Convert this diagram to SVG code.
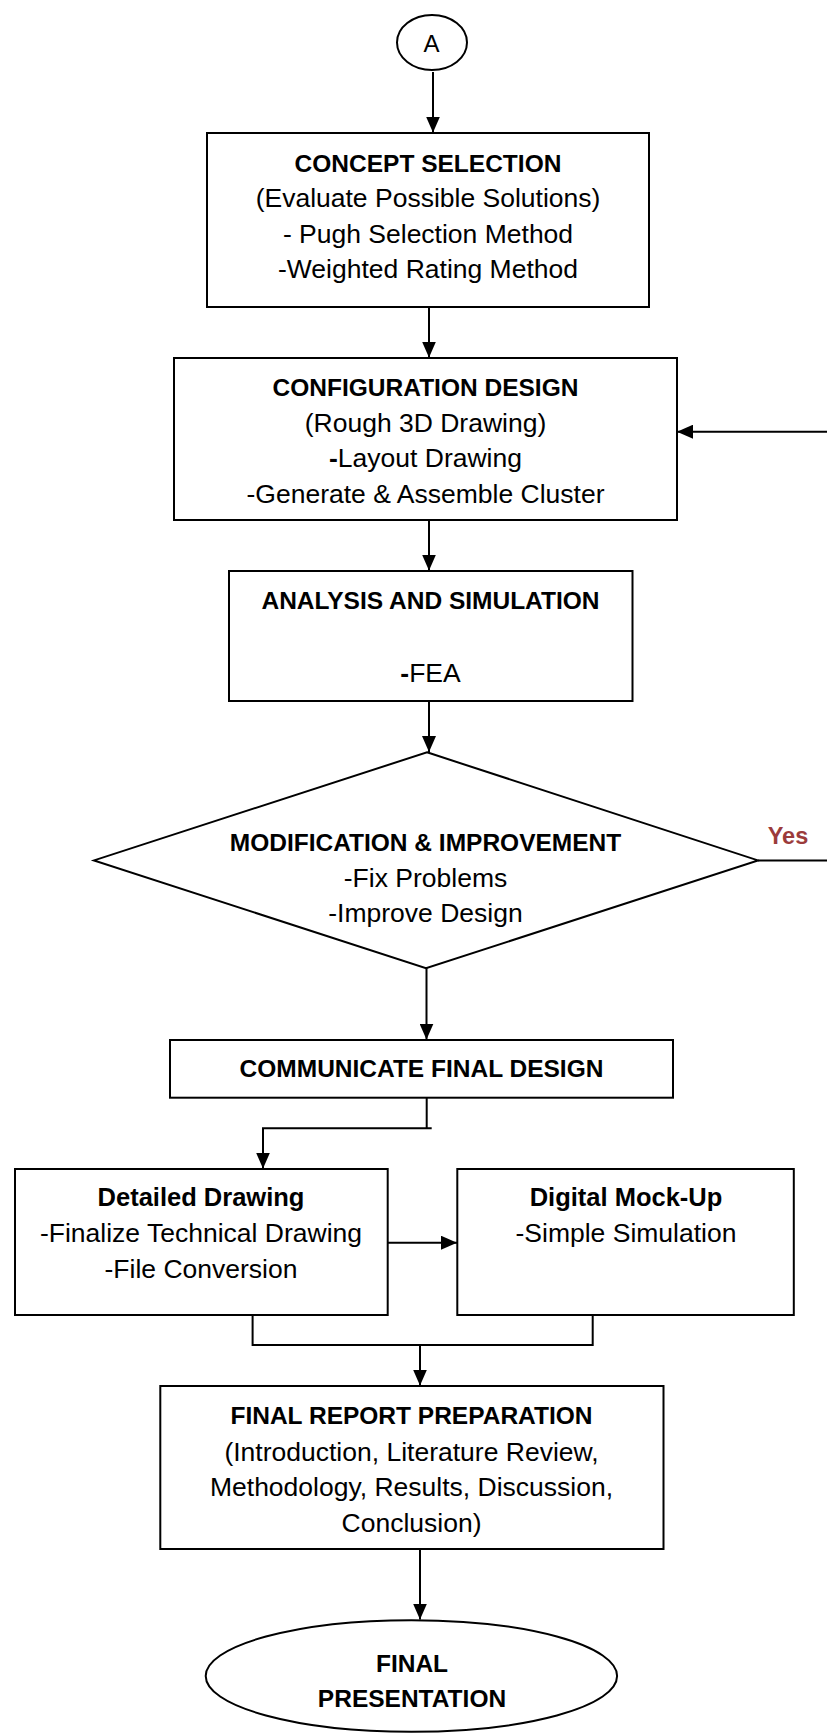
<svg xmlns="http://www.w3.org/2000/svg" width="827" height="1733" viewBox="0 0 827 1733">
<style>
.shape{fill:#fff;stroke:#000;stroke-width:2}
.conn{fill:none;stroke:#000;stroke-width:2}
text{font-family:"Liberation Sans",Arial,sans-serif;fill:#000;text-anchor:middle}
.h{font-size:24.5px;font-weight:bold}
.hm{font-size:25.5px;font-weight:bold}
.r{font-size:26.5px}
.yes{font-size:23.5px;font-weight:bold;fill:#9B3B3B}
</style>
<defs>
<marker id="ah" markerWidth="16" markerHeight="14" refX="16" refY="7" orient="auto" markerUnits="userSpaceOnUse">
<path d="M0,0 L16,7 L0,14 z" fill="#000"/>
</marker>
</defs>
<g id="connectors">
<path class="conn" d="M433 72 V132.5" marker-end="url(#ah)"/>
<path class="conn" d="M429 307 V357.5" marker-end="url(#ah)"/>
<path class="conn" d="M429 520 V570.5" marker-end="url(#ah)"/>
<path class="conn" d="M429 701 V752" marker-end="url(#ah)"/>
<path class="conn" d="M426.5 968 V1039.5" marker-end="url(#ah)"/>
<path class="conn" d="M426.7 1098 V1128.3"/>
<path class="conn" d="M431.7 1128.3 H263 V1168.5" marker-end="url(#ah)"/>
<path class="conn" d="M387.7 1242.7 H457" marker-end="url(#ah)"/>
<path class="conn" d="M252.6 1315 V1345 H592.7 V1315"/>
<path class="conn" d="M420 1345 V1385.5" marker-end="url(#ah)"/>
<path class="conn" d="M420 1549 V1619.5" marker-end="url(#ah)"/>
<path class="conn" d="M758 860.5 H830 V431.7 H677" marker-end="url(#ah)"/>
<text class="yes" x="788" y="844">Yes</text>
</g>
<g id="nodeA">
<ellipse class="shape" cx="432" cy="42.5" rx="35" ry="27.5"/>
<text x="431.5" y="51.5" style="font-size:24px">A</text>
</g>
<g id="concept">
<rect class="shape" x="207" y="133" width="442" height="174"/>
<text class="h" x="428" y="171.7">CONCEPT SELECTION</text>
<text class="r" x="428" y="207.3">(Evaluate Possible Solutions)</text>
<text class="r" x="428" y="242.7">- Pugh Selection Method</text>
<text class="r" x="428" y="278.3">-Weighted Rating Method</text>
</g>
<g id="configuration">
<rect class="shape" x="174" y="358" width="503" height="162"/>
<text class="h" x="425.5" y="395.7">CONFIGURATION DESIGN</text>
<text class="r" x="425.5" y="431.7">(Rough 3D Drawing)</text>
<text class="r" x="425.5" y="467.3"><tspan font-weight="bold">-</tspan>Layout Drawing</text>
<text class="r" x="425.5" y="502.7">-Generate &amp; Assemble Cluster</text>
</g>
<g id="analysis">
<rect class="shape" x="229" y="571" width="403.5" height="130"/>
<text class="h" x="430.5" y="609.3">ANALYSIS AND SIMULATION</text>
<text class="r" x="430.5" y="681.7"><tspan font-weight="bold">-</tspan>FEA</text>
</g>
<g id="modification">
<polygon class="shape" points="427,752.3 758,860.4 426,968.3 94,860.4"/>
<text class="h" x="425.5" y="850.7">MODIFICATION &amp; IMPROVEMENT</text>
<text class="r" x="425.5" y="886.7">-Fix Problems</text>
<text class="r" x="425.5" y="921.7">-Improve Design</text>
</g>
<g id="communicate">
<rect class="shape" x="170" y="1040" width="503" height="57.7"/>
<text class="h" x="421.5" y="1077.3">COMMUNICATE FINAL DESIGN</text>
</g>
<g id="detailed">
<rect class="shape" x="15" y="1169" width="372.7" height="146"/>
<text class="hm" x="201" y="1205.7">Detailed Drawing</text>
<text class="r" x="201" y="1241.7">-Finalize Technical Drawing</text>
<text class="r" x="201" y="1278.3">-File Conversion</text>
</g>
<g id="mockup">
<rect class="shape" x="457.3" y="1169" width="336.5" height="146"/>
<text class="hm" x="626" y="1205.7">Digital Mock-Up</text>
<text class="r" x="626" y="1241.7">-Simple Simulation</text>
</g>
<g id="report">
<rect class="shape" x="160.3" y="1386" width="503.2" height="163"/>
<text class="h" x="411.5" y="1424.3">FINAL REPORT PREPARATION</text>
<text class="r" x="411.5" y="1460.7">(Introduction, Literature Review,</text>
<text class="r" x="411.5" y="1496">Methodology, Results, Discussion,</text>
<text class="r" x="411.5" y="1531.7">Conclusion)</text>
</g>
<g id="presentation">
<ellipse class="shape" cx="411.4" cy="1676" rx="205.7" ry="55.8"/>
<text class="h" x="412" y="1671.7">FINAL</text>
<text class="h" x="412" y="1706.7">PRESENTATION</text>
</g>
</svg>
